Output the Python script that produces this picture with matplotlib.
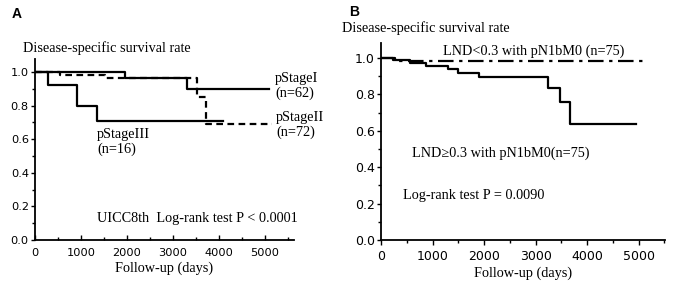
import numpy as np
import matplotlib
matplotlib.use("Agg")
from matplotlib import pyplot as plt

# Panel A: Kaplan-Meier steps (days, survival)
stage1_t = [0, 1950, 3300, 5090]
stage1_s = [1.0, 0.965, 0.90, 0.90]
stage2_t = [0, 540, 1520, 3520, 3720, 5150]
stage2_s = [1.0, 0.985, 0.965, 0.85, 0.69, 0.69]
stage3_t = [0, 280, 920, 1340, 4080]
stage3_s = [1.0, 0.925, 0.80, 0.71, 0.71]

# Panel B
low_t = [0, 270, 5130]
low_s = [1.0, 0.983, 0.983]
high_t = [0, 230, 560, 875, 1300, 1500, 1900, 3240, 3475, 3670, 4950]
high_s = [1.0, 0.99, 0.975, 0.955, 0.94, 0.92, 0.895, 0.835, 0.757, 0.635, 0.635]

SERIF = "Liberation Serif"
SANS = "DejaVu Sans"
FS = 10.3

fig = plt.figure(figsize=(6.75, 2.88), dpi=100)

def setup(ax, xmax, ytop, tsize, xdir, labpad):
    ax.set_xlim(0, xmax)
    ax.set_ylim(0, ytop)
    ax.spines['top'].set_visible(False)
    ax.spines['right'].set_visible(False)
    ax.spines['left'].set_linewidth(1.3)
    ax.spines['bottom'].set_linewidth(1.3)
    ax.set_xticks(np.arange(0, 5001, 1000))
    ax.set_xticks(np.arange(500, xmax, 500), minor=True)
    ax.set_yticks(np.arange(0, 1.01, 0.2))
    ax.set_yticks(np.arange(0.1, 1.0, 0.2), minor=True)
    ax.set_yticklabels(["%.1f" % v for v in np.arange(0, 1.01, 0.2)])
    ax.tick_params(axis='y', which='major', direction='out', length=3, width=1, labelsize=tsize, pad=1.5)
    ax.tick_params(axis='y', which='minor', direction='out', length=2, width=1)
    ax.tick_params(axis='x', which='major', direction=xdir, length=3.5, width=1, labelsize=tsize,
                   pad=5.5 if xdir == 'in' else 4)
    ax.tick_params(axis='x', which='minor', direction=xdir, length=2, width=1)
    for lab in ax.get_xticklabels() + ax.get_yticklabels():
        lab.set_family(SANS)
    ax.set_xlabel("Follow-up (days)", family=SERIF, fontsize=FS, labelpad=labpad)

# ---- A ----
axA = fig.add_axes([35/675, 48/288, 259/675, 181/288])
setup(axA, 5630, 1.078, 8.2, 'in', 2.5)
axA.step(stage1_t, stage1_s, where='post', color='black', lw=1.6)
axA.step(stage2_t, stage2_s, where='post', color='black', lw=1.6, dashes=(3, 2))
axA.step(stage3_t, stage3_s, where='post', color='black', lw=1.6)
axA.text(5220, 0.916, "pStageI\n(n=62)", family=SERIF, fontsize=FS, va='center', linespacing=1.1, clip_on=False)
axA.text(5240, 0.684, "pStageII\n(n=72)", family=SERIF, fontsize=FS, va='center', linespacing=1.1, clip_on=False)
axA.text(1350, 0.585, "pStageIII\n(n=16)", family=SERIF, fontsize=FS, va='center', linespacing=1.1)
axA.text(1350, 0.128, "UICC8th  Log-rank test P < 0.0001", family=SERIF, fontsize=FS, va='center')
fig.text(23/675, 1 - 48/288, "Disease-specific survival rate", family=SERIF, fontsize=FS, va='center')
fig.text(12/675, 1 - 14/288, "A", family="Liberation Sans", fontsize=10, fontweight='bold', va='center')

# ---- B ----
axB = fig.add_axes([381/675, 48/288, 284/675, 197/288])
setup(axB, 5510, 1.083, 9, 'out', 2)
axB.step(low_t, low_s, where='post', color='black', lw=1.6, dashes=(7, 2.5, 1.5, 2.5))
axB.step(high_t, high_s, where='post', color='black', lw=1.6)
axB.text(1200, 1.04, "LND<0.3 with pN1bM0 (n=75)", family=SERIF, fontsize=FS, va='center')
axB.text(600, 0.475, "LND\u22650.3 with pN1bM0(n=75)", family=[SERIF, 'DejaVu Serif'], fontsize=FS, va='center')
axB.text(430, 0.243, "Log-rank test P = 0.0090", family=SERIF, fontsize=FS, va='center')
fig.text(342/675, 1 - 28/288, "Disease-specific survival rate", family=SERIF, fontsize=FS, va='center')
fig.text(349/675, 1 - 12/288, "B", family="Liberation Sans", fontsize=10, fontweight='bold', va='center')

fig.savefig("out.png", dpi=100)
